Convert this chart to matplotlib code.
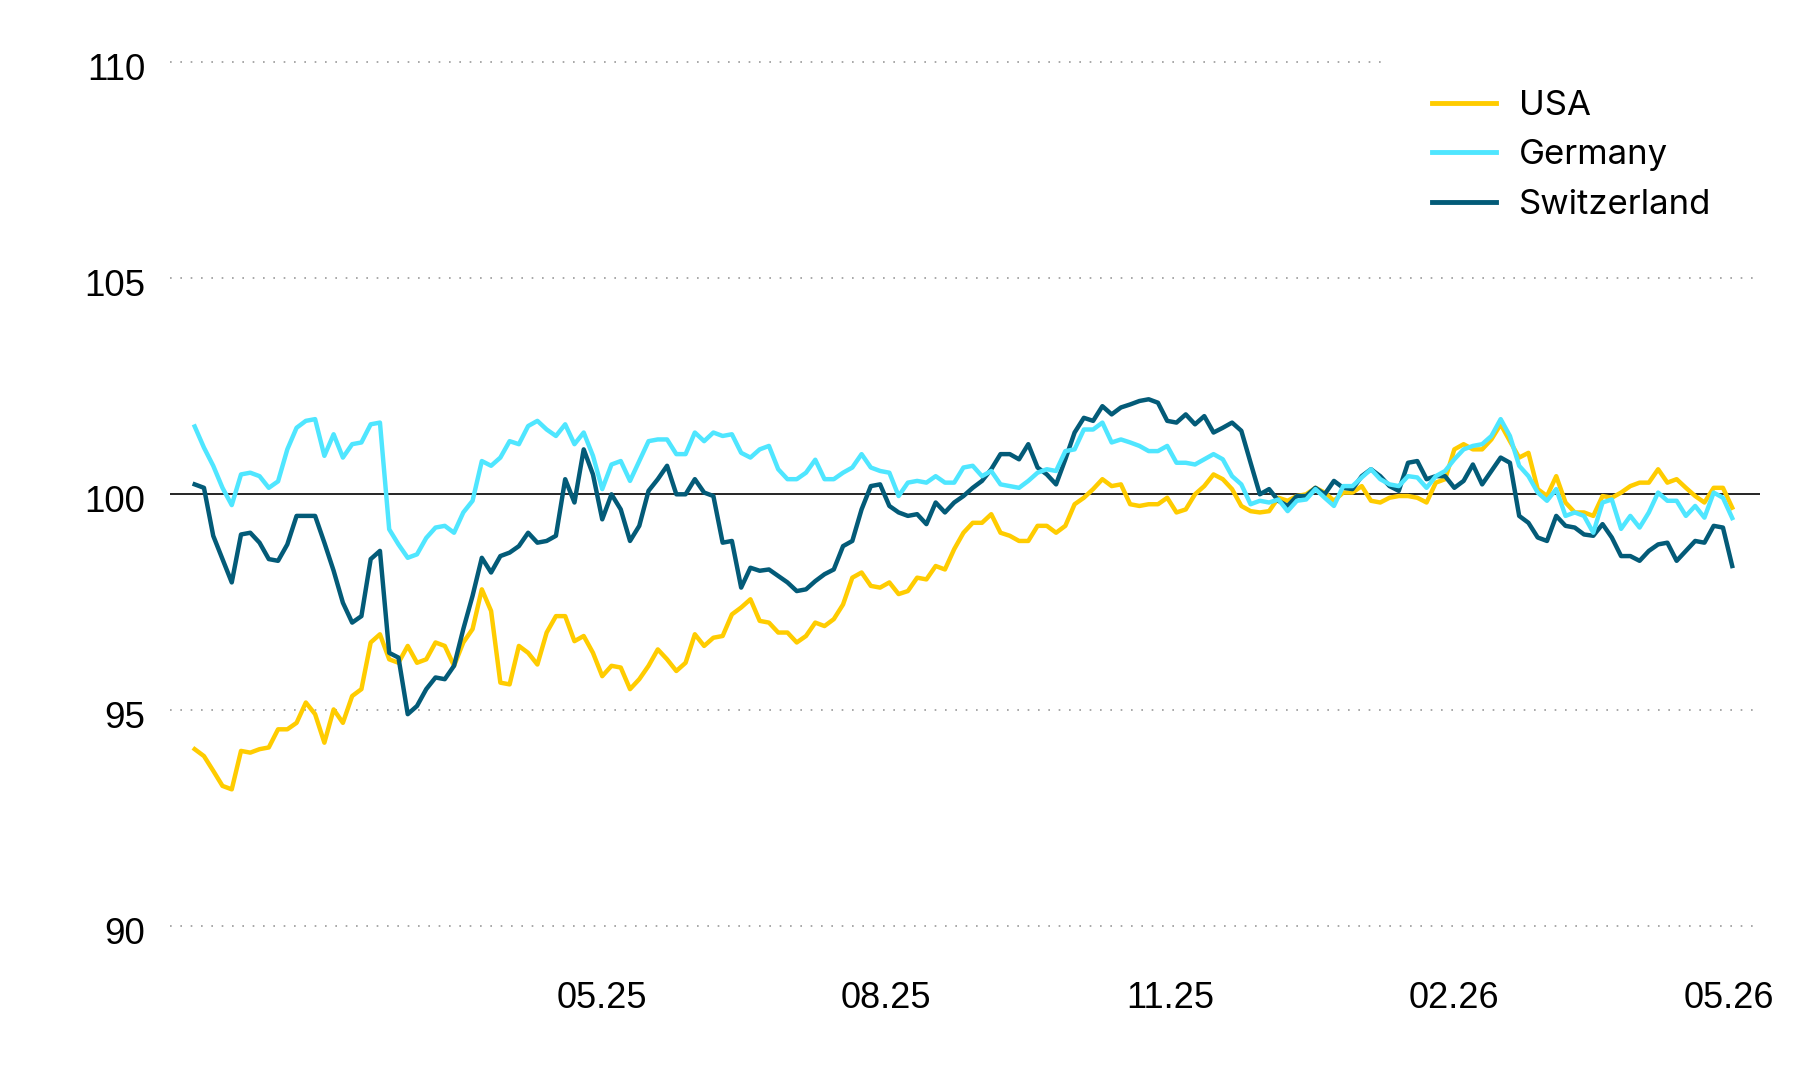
import matplotlib
matplotlib.use("Agg")
import matplotlib.pyplot as plt
import matplotlib.transforms as mtransforms
import pandas as pd

# ---- data (index values, sampled every 3 days) ----
start_date = "2024-12-20"
step = "3D"

usa = [94.10, 93.94, 93.60, 93.25, 93.17, 94.06, 94.02, 94.10, 94.14, 94.56, 94.56, 94.71, 95.18, 94.91, 94.25, 95.02,
       94.71, 95.33, 95.49, 96.57, 96.76, 96.18, 96.10, 96.49, 96.10, 96.18, 96.57, 96.49, 96.03, 96.57, 96.88, 97.80,
       97.30, 95.64, 95.60, 96.49, 96.33, 96.06, 96.80, 97.18, 97.18, 96.60, 96.72, 96.33, 95.79, 96.03, 95.99, 95.49,
       95.72, 96.03, 96.41, 96.18, 95.91, 96.10, 96.76, 96.49, 96.68, 96.72, 97.22, 97.38, 97.57, 97.07, 97.03, 96.80,
       96.80, 96.57, 96.72, 97.03, 96.95, 97.11, 97.45, 98.07, 98.19, 97.88, 97.84, 97.96, 97.69, 97.76, 98.07, 98.03,
       98.34, 98.26, 98.73, 99.11, 99.34, 99.34, 99.54, 99.11, 99.04, 98.92, 98.92, 99.27, 99.27, 99.11, 99.27, 99.77,
       99.92, 100.12, 100.35, 100.19, 100.23, 99.77, 99.73, 99.77, 99.77, 99.92, 99.58, 99.65, 100.00, 100.19, 100.46,
       100.35, 100.12, 99.73, 99.61, 99.58, 99.61, 99.92, 99.85, 99.96, 100.00, 100.15, 100.04, 99.85, 100.04, 100.04,
       100.19, 99.85, 99.81,
       99.92, 99.96, 99.96, 99.92, 99.81, 100.27, 100.35, 101.04, 101.16, 101.04, 101.04, 101.27, 101.62, 101.23,
       100.85, 100.96, 100.12, 99.96, 100.42, 99.81, 99.58, 99.58, 99.50, 99.96, 99.92, 100.04, 100.19, 100.27, 100.27,
       100.58, 100.27, 100.35, 100.15, 99.96, 99.81, 100.15, 100.15, 99.69]

germany = [101.57, 101.08, 100.66, 100.15, 99.75, 100.46, 100.50, 100.42, 100.15, 100.30, 101.04, 101.54, 101.70,
           101.74, 100.89, 101.39, 100.85, 101.16, 101.20, 101.62, 101.66, 99.19, 98.84, 98.53, 98.61, 98.99, 99.23,
           99.27, 99.11, 99.58, 99.85, 100.77,
           100.66, 100.85, 101.23, 101.16, 101.58, 101.70, 101.50, 101.35, 101.62, 101.16, 101.43, 100.89, 100.12,
           100.69, 100.77, 100.31, 100.77, 101.23, 101.27, 101.27, 100.93, 100.93, 101.43, 101.23, 101.43, 101.35,
           101.39, 100.96, 100.85, 101.04, 101.12, 100.58,
           100.35, 100.35, 100.50, 100.80, 100.35, 100.35, 100.50, 100.62, 100.93, 100.62, 100.54, 100.50, 99.96,
           100.27, 100.31, 100.27, 100.42, 100.27, 100.27, 100.62, 100.66, 100.42, 100.54, 100.23, 100.19, 100.15,
           100.31, 100.50, 100.58, 100.54, 101.00, 101.04,
           101.50, 101.50, 101.66, 101.20, 101.27, 101.20, 101.12, 101.00, 101.00, 101.12, 100.73, 100.73, 100.69,
           100.81, 100.93, 100.81, 100.42, 100.23, 99.77, 99.85, 99.81, 99.88, 99.61, 99.85, 99.88, 100.12, 99.92,
           99.73, 100.19, 100.19, 100.39, 100.58, 100.35,
           100.23, 100.19, 100.42, 100.39, 100.15, 100.42, 100.54, 100.81, 101.04, 101.12, 101.16, 101.35, 101.74,
           101.35, 100.66, 100.42, 100.04, 99.85, 100.12, 99.50, 99.58, 99.50, 99.11, 99.81, 99.88, 99.20, 99.50,
           99.23, 99.58, 100.04, 99.85, 99.85, 99.50, 99.73, 99.46, 100.04, 99.92, 99.45]

switzerland = [100.23, 100.15, 99.04, 98.50, 97.96, 99.07, 99.11, 98.88, 98.50, 98.46, 98.84, 99.50, 99.50, 99.50,
               98.88, 98.23, 97.49, 97.03, 97.18, 98.50, 98.69, 96.33, 96.22, 94.91, 95.10, 95.49, 95.76, 95.72,
               96.03, 96.88, 97.65, 98.53,
               98.19, 98.57, 98.65, 98.80, 99.11, 98.88, 98.92, 99.04, 100.35, 99.81, 101.04, 100.46, 99.42, 100.00,
               99.65, 98.92, 99.27, 100.08, 100.35, 100.66, 100.00, 100.00, 100.35, 100.04, 99.96, 98.88, 98.92,
               97.84, 98.30, 98.23, 98.26, 98.11,
               97.96, 97.76, 97.80, 97.99, 98.15, 98.26, 98.80, 98.92, 99.65, 100.19, 100.23, 99.73, 99.58, 99.50,
               99.54, 99.31, 99.81, 99.58, 99.81, 99.96, 100.15, 100.31, 100.58, 100.93, 100.93, 100.81, 101.16,
               100.62, 100.46, 100.23, 100.81, 101.43,
               101.77, 101.70, 102.04, 101.85, 102.01, 102.08, 102.16, 102.20, 102.12, 101.70, 101.66, 101.85,
               101.62, 101.81, 101.43, 101.54, 101.66, 101.47, 100.73, 100.00, 100.12, 99.85, 99.73, 99.96, 99.96,
               100.15, 100.00, 100.31, 100.15, 100.12, 100.42, 100.58, 100.42,
               100.19, 100.08, 100.73, 100.77, 100.35, 100.42, 100.42, 100.15, 100.31, 100.69, 100.23, 100.54,
               100.85, 100.73, 99.50, 99.34, 99.00, 98.92, 99.50, 99.27, 99.23, 99.07, 99.04, 99.31, 99.00, 98.57,
               98.57, 98.46, 98.69, 98.84, 98.88, 98.46, 98.69, 98.92, 98.88, 99.27, 99.23, 98.34]

series_names = ["USA", "Germany", "Switzerland"]
y_ticks = [90, 95, 100, 105, 110]
x_tick_dates = ["2025-05-01", "2025-08-01", "2025-11-01", "2026-02-01", "2026-05-01"]
x_tick_labels = ["05.25", "08.25", "11.25", "02.26", "05.26"]

colors = {"USA": "#FFCC00", "Germany": "#4FE6FF", "Switzerland": "#035B78"}

# ---- figure ----
fig = plt.figure(figsize=(18, 10.8), dpi=100)
ax = fig.add_axes([170 / 1800, 1 - 947.9 / 1080, (1760 - 170) / 1800, (947.9 - 40.7) / 1080])

def dates_for(vals):
    return pd.date_range(start_date, periods=len(vals), freq=step)

data = {"USA": usa, "Germany": germany, "Switzerland": switzerland}
handles = {}
for name in ["USA", "Switzerland", "Germany"]:
    vals = data[name]
    (h,) = ax.plot(dates_for(vals), vals, color=colors[name], lw=3.2, solid_joinstyle="round",
                   label=name, zorder=3)
    handles[name] = h

ax.set_xlim(pd.Timestamp("2024-12-12"), pd.Timestamp("2026-05-11"))
ax.set_ylim(89.5, 110.5)

# grid lines
for v in y_ticks:
    if v == 100:
        ax.axhline(v, color="black", lw=1.2, zorder=2)
    elif v == 110:
        ax.axhline(v, xmax=(1389 - 170) / (1760 - 170), color="#9a9a9a", lw=1.2,
                   linestyle=(0, (1, 5.2)), zorder=1)
    else:
        ax.axhline(v, color="#9a9a9a", lw=1.2, linestyle=(0, (1, 5.2)), zorder=1)

for s in ax.spines.values():
    s.set_visible(False)

tick_font = "Liberation Sans"
ax.set_yticks(y_ticks)
ax.set_yticklabels([str(v) for v in y_ticks], fontfamily=tick_font, fontsize=26.5)
ax.set_xticks([pd.Timestamp(d) for d in x_tick_dates])
ax.set_xticklabels(x_tick_labels, fontfamily=tick_font, fontsize=26)
ax.tick_params(axis="y", length=0, pad=18)
ax.tick_params(axis="x", length=0, pad=23.5)

shift = mtransforms.ScaledTranslation(0, -3.3 / 72, fig.dpi_scale_trans)
for lbl in ax.get_yticklabels():
    lbl.set_transform(lbl.get_transform() + shift)

leg = fig.legend([handles[n] for n in series_names], series_names,
                 loc="upper left", bbox_to_anchor=(1432 / 1800, 1 - 90 / 1080),
                 frameon=False, handlelength=1.85, handletextpad=0.65, labelspacing=0.5,
                 borderpad=0, borderaxespad=0, prop={"family": "Inter", "size": 25})
for line in leg.get_lines():
    line.set_linewidth(3.5)

fig.savefig("out.png", dpi=100, facecolor="white")
